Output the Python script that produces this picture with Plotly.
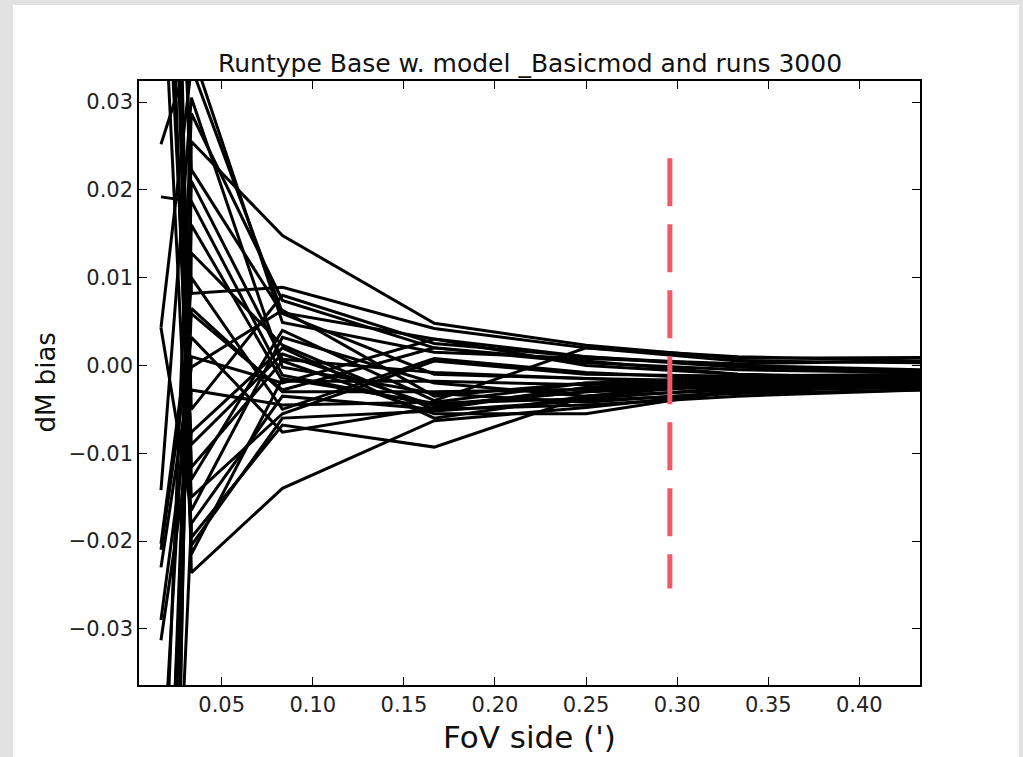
import plotly.graph_objects as go

# FoV side in arcminutes (1, 2, 5, 10, 15, 20, 26 arcsec)
fov_side = [1 / 60, 2 / 60, 5 / 60, 10 / 60, 15 / 60, 20 / 60, 26 / 60]

# dM bias for each run realisation
run_01 = [0.0252, 0.0360, 0.0049, 0.0015, 0.0008, 0.0002, 0.0005]
run_02 = [-0.060, 0.0287, 0.0074, 0.0020, 0.0003, -0.0005, -0.0008]
run_03 = [-0.150, 0.0255, 0.0148, 0.0048, 0.0023, 0.0008, 0.0009]
run_04 = [0.090, 0.0223, 0.0059, -0.0010, -0.0015, -0.0018, -0.0012]
run_05 = [0.0192, 0.0187, -0.0011, -0.0045, -0.0030, -0.0020, -0.0015]
run_06 = [-0.080, 0.0128, 0.0023, -0.0050, -0.0025, -0.0015, -0.0020]
run_07 = [0.200, 0.0082, 0.0089, 0.0042, 0.0020, 0.0005, 0.0003]
run_08 = [0.0043, 0.0340, 0.0060, 0.0030, 0.0010, 0.0000, -0.0005]
run_09 = [0.0043, -0.0165, 0.0032, -0.0020, -0.0035, -0.0028, -0.0025]
run_10 = [-0.0142, 0.0305, -0.0002, -0.0032, -0.0042, -0.0030, -0.0022]
run_11 = [-0.0203, 0.0059, -0.0028, 0.0020, 0.0005, -0.0010, -0.0018]
run_12 = [-0.0210, 0.0032, -0.0076, -0.0048, -0.0025, -0.0020, -0.0023]
run_13 = [-0.0230, -0.0002, 0.0063, -0.0035, -0.0020, -0.0025, -0.0026]
run_14 = [-0.0290, -0.0028, -0.0045, -0.0042, -0.0020, -0.0015, -0.0010]
run_15 = [-0.0313, -0.0076, 0.0020, -0.0060, -0.0035, -0.0020, -0.0020]
run_16 = [0.095, -0.0116, 0.0005, -0.0055, -0.0055, -0.0028, -0.0018]
run_17 = [0.130, -0.0236, -0.0140, -0.0063, -0.0048, -0.0030, -0.0023]
run_18 = [0.070, -0.0150, -0.0055, 0.0005, -0.0010, -0.0012, -0.0015]
run_19 = [-0.095, -0.0180, -0.0035, -0.0050, -0.0045, -0.0035, -0.0028]
run_20 = [0.080, -0.0196, -0.0068, -0.0093, -0.0035, -0.0018, -0.0010]
run_21 = [-0.070, 0.0010, -0.0020, 0.0030, 0.0000, -0.0010, -0.0014]
run_22 = [0.110, -0.0050, 0.0080, 0.0025, 0.0010, -0.0002, -0.0006]
run_23 = [-0.120, 0.0160, -0.0018, -0.0018, -0.0022, -0.0012, -0.0010]
run_24 = [0.060, -0.0090, 0.0013, -0.0046, -0.0030, -0.0024, -0.0020]
run_25 = [-0.050, 0.0100, -0.0050, 0.0008, -0.0008, -0.0016, -0.0022]
run_26 = [0.140, -0.0130, 0.0040, -0.0040, 0.0020, 0.0010, 0.0005]
run_27 = [-0.140, 0.0210, 0.0007, -0.0008, -0.0015, -0.0022, -0.0024]
run_28 = [0.050, -0.0205, -0.0060, -0.0052, -0.0040, -0.0032, -0.0028]
run_29 = [-0.085, 0.0065, -0.0030, -0.0030, -0.0027, -0.0020, -0.0017]
run_30 = [0.120, -0.0215, -0.0015, -0.0043, -0.0038, -0.0025, -0.0020]

runs = [run_01, run_02, run_03, run_04, run_05, run_06, run_07, run_08, run_09, run_10,
        run_11, run_12, run_13, run_14, run_15, run_16, run_17, run_18, run_19, run_20,
        run_21, run_22, run_23, run_24, run_25, run_26, run_27, run_28, run_29, run_30]

# reference FoV marker
marker_x = 0.296
marker_y = [0.0236, -0.0254]

x_ticks = [0.05, 0.10, 0.15, 0.20, 0.25, 0.30, 0.35, 0.40]
y_ticks = [-0.03, -0.02, -0.01, 0.00, 0.01, 0.02, 0.03]

fig = go.Figure()

for vals in runs:
    fig.add_trace(go.Scatter(
        x=fov_side, y=vals, mode="lines",
        line=dict(color="black", width=3),
        hoverinfo="skip", showlegend=False,
    ))

fig.add_trace(go.Scatter(
    x=[marker_x, marker_x], y=marker_y, mode="lines",
    line=dict(color="#ef5a6b", width=5, dash="48px,18px"),
    hoverinfo="skip", showlegend=False,
))

axis_common = dict(
    showline=True, linecolor="black", linewidth=1.5, mirror="allticks",
    ticks="inside", ticklen=8, tickwidth=1, tickcolor="black",
    showgrid=False, zeroline=False, tickformat=".2f",
    tickfont=dict(family="DejaVu Sans", size=21, color="#222222"),
)

fig.update_layout(
    width=1023, height=757,
    margin=dict(l=139, r=103, t=81, b=72, pad=0),
    paper_bgcolor="#e2e2e2", plot_bgcolor="white",
    xaxis=dict(range=[0.0046, 0.4333], tickvals=x_ticks, **axis_common),
    yaxis=dict(range=[-0.0364, 0.0324], tickvals=y_ticks, **axis_common),
    shapes=[dict(
        type="rect", xref="paper", yref="paper", layer="below",
        x0=-0.1613, x1=1.1268, y0=-0.2, y1=1.1258,
        fillcolor="white", line=dict(width=0),
    )],
    annotations=[
        dict(text="Runtype Base w. model _Basicmod and runs 3000",
             xref="paper", yref="paper", x=0.5, y=1.0298,
             xanchor="center", yanchor="middle", showarrow=False,
             font=dict(family="DejaVu Sans", size=25, color="#111111")),
        dict(text="FoV side (')",
             xref="paper", yref="paper", x=0.5, y=-0.086,
             xanchor="center", yanchor="middle", showarrow=False,
             font=dict(family="DejaVu Sans", size=31, color="#111111")),
        dict(text="dM bias", textangle=-90,
             xref="paper", yref="paper", x=-0.1197, y=0.5,
             xanchor="center", yanchor="middle", showarrow=False,
             font=dict(family="DejaVu Sans", size=26, color="#111111")),
    ],
)

fig.write_html("out.html")
